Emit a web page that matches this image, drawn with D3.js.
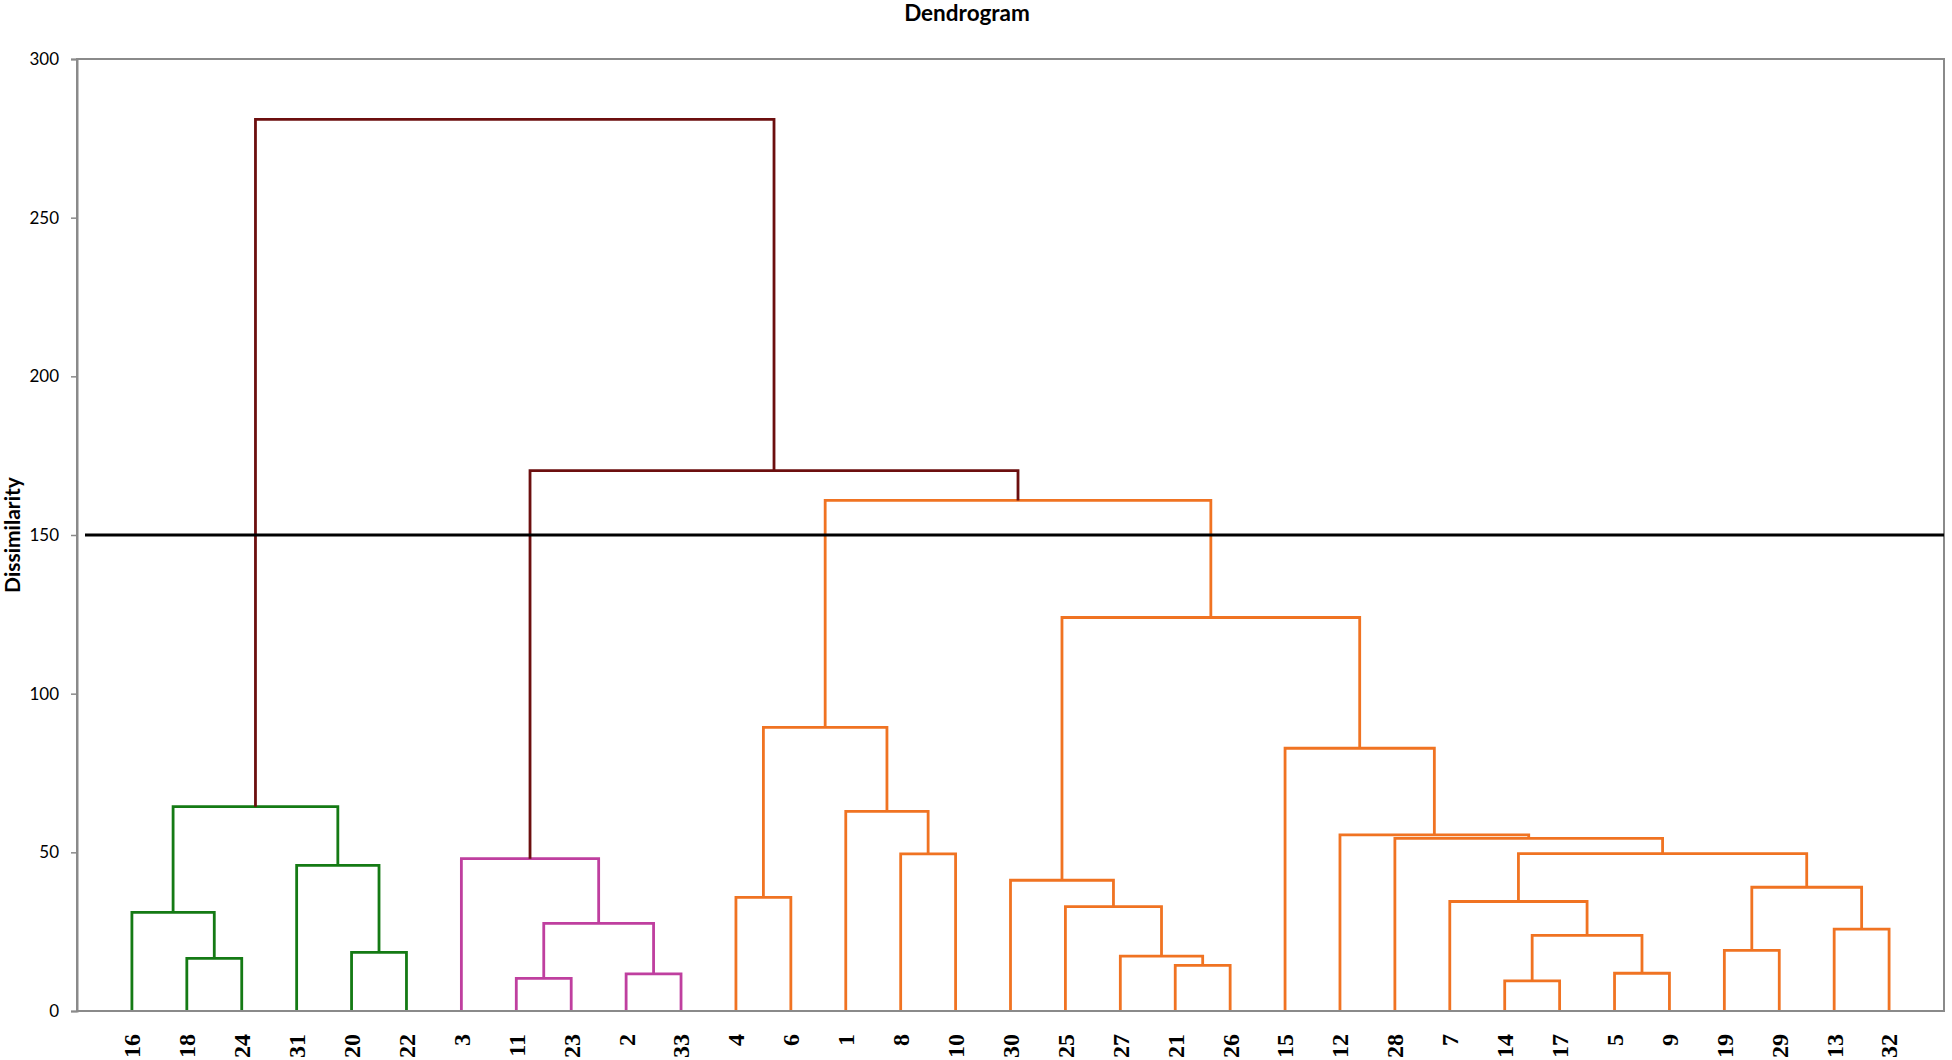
<!DOCTYPE html>
<html>
<head>
<meta charset="utf-8">
<script src="https://cdn.jsdelivr.net/npm/d3@7"></script>
<style>
  html, body { margin: 0; padding: 0; background: #fff; }
  svg { display: block; }
</style>
</head>
<body>
<svg id="chart" width="1952" height="1060"></svg>
<script>
// ---- data ----
const leafOrder = ["16","18","24","31","20","22","3","11","23","2","33","4","6","1","8","10","30","25","27","21","26","15","12","28","7","14","17","5","9","19","29","13","32"];

// merges: [child A, child B, dissimilarity]; "mN" refers to the N-th merge
const mergeLeft   = ["18","16","20","31","m1","11","2","m5","3","4","8","1","m9","21","27","25","30","14","5","m17","7","19","13","m21","m20","28","12","15","m16","m12","m8","m4"];
const mergeRight  = ["24","m0","22","m2","m3","23","33","m6","m7","6","10","m10","m11","26","m13","m14","m15","17","9","m18","m19","29","32","m22","m23","m24","m25","m26","m27","m28","m29","m30"];
const mergeHeight = [16.6,31.1,18.5,45.9,64.4,10.3,11.7,27.6,48.0,35.8,49.5,62.9,89.4,14.4,17.3,32.9,41.2,9.5,11.9,23.8,34.5,19.1,25.8,39.0,49.6,54.4,55.5,82.8,124.0,160.9,170.3,281.0];

const clusterNames = ["green", "magenta", "orange"];
const clusterLeaves = [
  ["16","18","24","31","20","22"],
  ["3","11","23","2","33"],
  ["4","6","1","8","10","30","25","27","21","26","15","12","28","7","14","17","5","9","19","29","13","32"]
];

const yTicks = [0, 50, 100, 150, 200, 250, 300];
const cutHeight = 150;
const titleText = "Dendrogram";
const yTitle = "Dissimilarity";

// ---- styles ----
const clusterColor = { green: "#147a14", magenta: "#bf3f9f", orange: "#f07322", above: "#6c0f0f" };
const axisGray = "#8a8a8a";

// ---- layout ----
const W = 1952, H = 1060;
const plotL = 77, plotR = 1944, plotT = 59, plotB = 1011;

const svg = d3.select("#chart");

const x = d3.scaleLinear().domain([0, leafOrder.length + 1]).range([plotL, plotR]);
const y = d3.scaleLinear().domain([0, 300]).range([plotB, plotT]);

// node positions
const nodes = {};
leafOrder.forEach((l, i) => { nodes[l] = { x: i + 1, h: 0, leaves: [l] }; });
mergeHeight.forEach((h, i) => {
  const a = nodes[mergeLeft[i]], b = nodes[mergeRight[i]];
  nodes["m" + i] = { x: (a.x + b.x) / 2, h: h, leaves: a.leaves.concat(b.leaves), a: a, b: b };
});

function colorOf(node) {
  for (let c = 0; c < clusterLeaves.length; c++) {
    if (node.leaves.every(l => clusterLeaves[c].includes(l))) return clusterColor[clusterNames[c]];
  }
  return clusterColor.above;
}

// plot frame (top and right border)
svg.append("rect")
  .attr("x", plotL).attr("y", plotT)
  .attr("width", plotR - plotL).attr("height", plotB - plotT)
  .attr("fill", "none").attr("stroke", axisGray).attr("stroke-width", 2);

// y axis
const yAxis = d3.axisLeft(y).tickValues(yTicks).tickSize(6).tickPadding(12).tickFormat(d3.format("d"));
const gy = svg.append("g").attr("transform", `translate(${plotL},0)`).call(yAxis);
gy.select(".domain").attr("stroke", axisGray).attr("stroke-width", 2);
gy.selectAll(".tick line").attr("stroke", axisGray).attr("stroke-width", 1.5);
gy.selectAll(".tick text").attr("fill", "#000").style("font-family", "Lato, 'Open Sans', sans-serif").style("font-size", "17px");

// dendrogram links
const merges = mergeHeight.map((h, i) => nodes["m" + i]);
svg.append("g").selectAll("path").data(merges).join("path")
  .attr("d", n => `M${x(n.a.x)},${y(n.a.h)}V${y(n.h)}H${x(n.b.x)}V${y(n.b.h)}`)
  .attr("fill", "none")
  .attr("stroke", n => colorOf(n))
  .attr("stroke-width", 2.8)
  .attr("stroke-linejoin", "miter")
  .attr("stroke-linecap", "butt");

// cut line
svg.append("line")
  .attr("x1", plotL + 8).attr("x2", plotR)
  .attr("y1", y(cutHeight)).attr("y2", y(cutHeight))
  .attr("stroke", "#000").attr("stroke-width", 3.2);

// bottom axis line
svg.append("line").attr("x1", plotL).attr("x2", plotR).attr("y1", plotB).attr("y2", plotB)
  .attr("stroke", axisGray).attr("stroke-width", 2);

// leaf labels
svg.append("g").selectAll("text").data(leafOrder).join("text")
  .attr("transform", d => `translate(${x(nodes[d].x)},1034) rotate(-90)`)
  .attr("text-anchor", "end")
  .attr("dy", "0.35em")
  .style("font-family", "'Liberation Serif', 'Times New Roman', serif")
  .style("font-weight", "bold")
  .style("font-size", "24px")
  .attr("fill", "#000")
  .text(d => d);

// title
svg.append("text")
  .attr("x", 967).attr("y", 21)
  .attr("text-anchor", "middle")
  .style("font-family", "Lato, 'Open Sans', sans-serif")
  .style("font-weight", "bold")
  .style("font-size", "22.5px")
  .text(titleText);

// y title
svg.append("text")
  .attr("transform", `translate(20,${(plotT + plotB) / 2 + 0}) rotate(-90)`)
  .attr("text-anchor", "middle")
  .style("font-family", "Lato, 'Open Sans', sans-serif")
  .style("font-weight", "bold")
  .style("font-size", "21px")
  .text(yTitle);
</script>
</body>
</html>
